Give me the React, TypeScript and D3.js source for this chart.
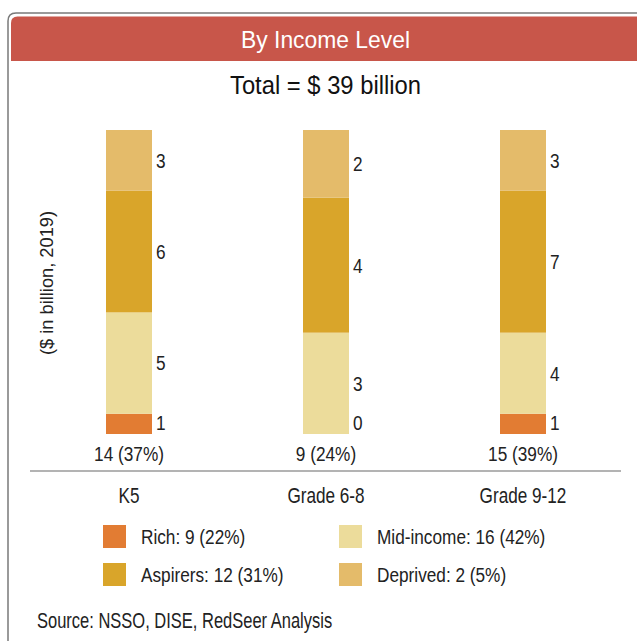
import React from 'react';
import * as d3 from 'd3';

const categories = ['K5', 'Grade 6-8', 'Grade 9-12'];
const segmentKeys = ['Rich', 'Mid-income', 'Aspirers', 'Deprived'];
const rich = [1, 0, 1];
const midIncome = [5, 3, 4];
const aspirers = [6, 4, 7];
const deprived = [3, 2, 3];
const totals = [14, 9, 15];
const totalShares = [37, 24, 39];
const legendLabels = ['Rich: 9 (22%)', 'Mid-income: 16 (42%)', 'Aspirers: 12 (31%)', 'Deprived: 2 (5%)'];
const legendKeys = ['Rich', 'Mid-income', 'Aspirers', 'Deprived'];

const colors: Record<string, string> = {
  'Rich': '#e27c33',
  'Mid-income': '#ecdc9b',
  'Aspirers': '#d9a52a',
  'Deprived': '#e4bb6a',
};

const FONT = "'Liberation Sans', Arial, sans-serif";
const W = 637;
const H = 641;
const SX = 0.84; // squeeze to imitate a condensed face

// condensed text: horizontal squeeze around its anchor point
const NText = ({ x, y, anchor = 'start', size = 20.5, sx = SX, fill = '#222', dy, children }: any) => (
  <text
    transform={`translate(${x},${y}) scale(${sx},1)`}
    textAnchor={anchor}
    fontSize={size}
    fill={fill}
    dy={dy}
  >
    {children}
  </text>
);

const App = () => {
  const table = categories.map((c, i) => ({
    cat: c,
    'Rich': rich[i],
    'Mid-income': midIncome[i],
    'Aspirers': aspirers[i],
    'Deprived': deprived[i],
  }));

  const stacked = d3.stack<any>()
    .keys(segmentKeys)
    .offset(d3.stackOffsetExpand)(table);

  const x = d3.scaleBand().domain(categories).range([30.5, 621.5]);
  const y = d3.scaleLinear().domain([0, 1]).range([434, 130]);
  const barW = 46;
  const bottom = y(0);

  return (
    <svg width={W} height={H} style={{ position: 'absolute', left: 0, top: 0 }} fontFamily={FONT}>
      <rect width={W} height={H} fill="#fff" />
      {/* card outline */}
      <path d="M8,660 L8,21 Q8,13 16,13 L660,13" fill="none" stroke="#7a7a7a" strokeWidth={1.5} />
      {/* header band */}
      <path d="M11,61 L11,23 Q11,16.5 17.5,16.5 L660,16.5 L660,61 Z" fill="#c8564a" />
      <text x={325.5} y={48} textAnchor="middle" fill="#fff" fontSize={24}
        textLength={169} lengthAdjust="spacingAndGlyphs">By Income Level</text>
      <text x={325.5} y={94} textAnchor="middle" fill="#111" fontSize={25}
        textLength={191} lengthAdjust="spacingAndGlyphs">Total = $ 39 billion</text>

      <text transform={`translate(53,283) rotate(-90)`} textAnchor="middle" fontSize={19} fill="#222"
        textLength={144} lengthAdjust="spacingAndGlyphs">
        ($ in billion, 2019)
      </text>

      {stacked.map((layer) => (
        <g key={layer.key}>
          {layer.map((d, i) => {
            const cx = x(categories[i])! + x.bandwidth() / 2;
            const y0 = y(d[0]);
            const y1 = y(d[1]);
            let ly = (y0 + y1) / 2;
            if (layer.key === 'Rich') ly = Math.min(ly, bottom - 11);
            return (
              <g key={i}>
                <rect x={cx - barW / 2} y={y1} width={barW} height={Math.max(0, y0 - y1)} fill={colors[layer.key]} />
                <NText x={cx + barW / 2 + 4} y={ly} dy="0.36em">
                  {(d.data as any)[layer.key]}
                </NText>
              </g>
            );
          })}
        </g>
      ))}

      {categories.map((c, i) => {
        const cx = x(c)! + x.bandwidth() / 2;
        return (
          <g key={c}>
            <NText x={cx} y={461} anchor="middle">{`${totals[i]} (${totalShares[i]}%)`}</NText>
            <NText x={cx} y={503} anchor="middle" size={22} sx={0.78}>{c}</NText>
          </g>
        );
      })}

      <line x1={30} x2={621} y1={471} y2={471} stroke="#9a9a9a" strokeWidth={1.5} />

      {legendLabels.map((l, i) => {
        const lx = i % 2 === 0 ? 103 : 339;
        const ly = i < 2 ? 525 : 563;
        return (
          <g key={l}>
            <rect x={lx} y={ly} width={23} height={23} fill={colors[legendKeys[i]]} />
            <NText x={lx + 38} y={ly + 11.5} dy="0.36em">{l}</NText>
          </g>
        );
      })}

      <NText x={37} y={628} size={22} sx={0.75}>Source: NSSO, DISE, RedSeer Analysis</NText>
    </svg>
  );
};

export default App;
